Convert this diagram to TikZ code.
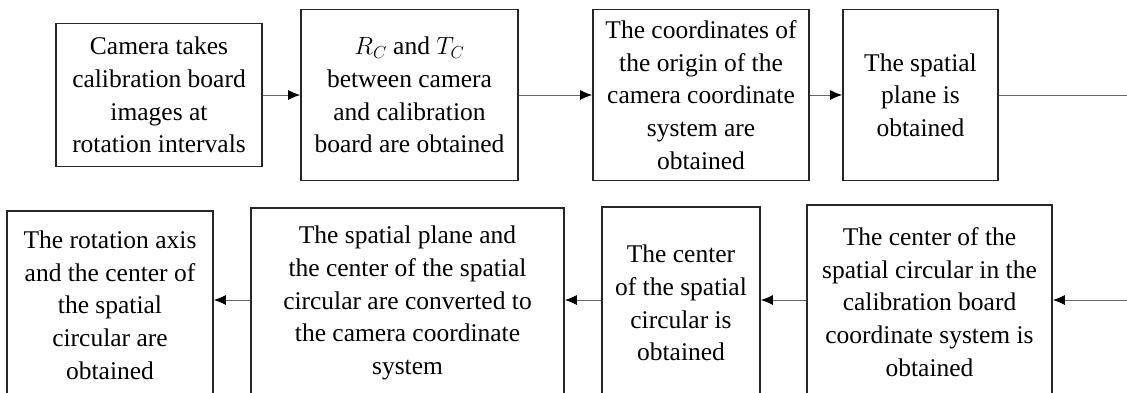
\documentclass[tikz,border=0pt]{standalone}
\usepackage{fontspec}
\setmainfont{Liberation Serif}
\usepackage{tikz}
\usetikzlibrary{arrows.meta}

\begin{document}
\begin{tikzpicture}[x=1pt, y=-1pt, >={Latex[length=12pt, width=10pt, color=black, fill=black]},
    block/.style={rectangle, draw=black!85, line width=1.6pt, inner sep=0pt, align=center, font=\fontsize{25.5}{32.7}\selectfont},
    line/.style={draw, ->, line width=1pt, black!60},
    plain/.style={draw, line width=1pt, black!60}]

    \useasboundingbox (0, 0) rectangle (1127, 392);
    \clip (0, 0) rectangle (1127, 392);

    % Row 1: calibration
    \node [block, minimum width=206pt, minimum height=143pt] (cam) at (159, 95) {Camera takes\\calibration board\\images at\\rotation intervals};
    \node [block, minimum width=217pt, minimum height=171pt] (rt) at (409.5, 95) {$R_C$ and $T_C$\\between camera\\and calibration\\board are obtained};
    \node [block, minimum width=216pt, minimum height=171pt] (origin) at (701, 95) {The coordinates of\\the origin of the\\camera coordinate\\system are\\obtained};
    \node [block, minimum width=155pt, minimum height=171pt] (plane) at (920.5, 95) {The spatial\\plane is\\obtained};

    % Row 2: circle centre and axis
    \node [block, minimum width=245pt, minimum height=194pt] (board) at (929.5, 302) {The center of the\\spatial circular in the\\calibration board\\coordinate system is\\obtained};
    \node [block, minimum width=158pt, minimum height=192pt] (center) at (681, 303) {The center\\of the spatial\\circular is\\obtained};
    \node [block, minimum width=313pt, minimum height=190pt] (convert) at (407.5, 303) {The spatial plane and\\the center of the spatial\\circular are converted to\\the camera coordinate\\system};
    \node [block, minimum width=206pt, minimum height=188pt] (axis) at (110, 305) {The rotation axis\\and the center of\\the spatial\\circular are\\obtained};

    % Wrap-around ends
    \coordinate (outtop) at (1135, 95);
    \coordinate (inbot) at (1135, 300);

    % Paths
    \path [line] (cam) -- (rt);
    \path [line] (rt) -- (origin);
    \path [line] (origin) -- (plane);
    \path [plain] (plane.east) -- (outtop);
    \path [line] (inbot) -- (inbot -| board.east);
    \path [line] (inbot -| board.west) -- (inbot -| center.east);
    \path [line] (inbot -| center.west) -- (inbot -| convert.east);
    \path [line] (inbot -| convert.west) -- (inbot -| axis.east);
\end{tikzpicture}
\end{document}
